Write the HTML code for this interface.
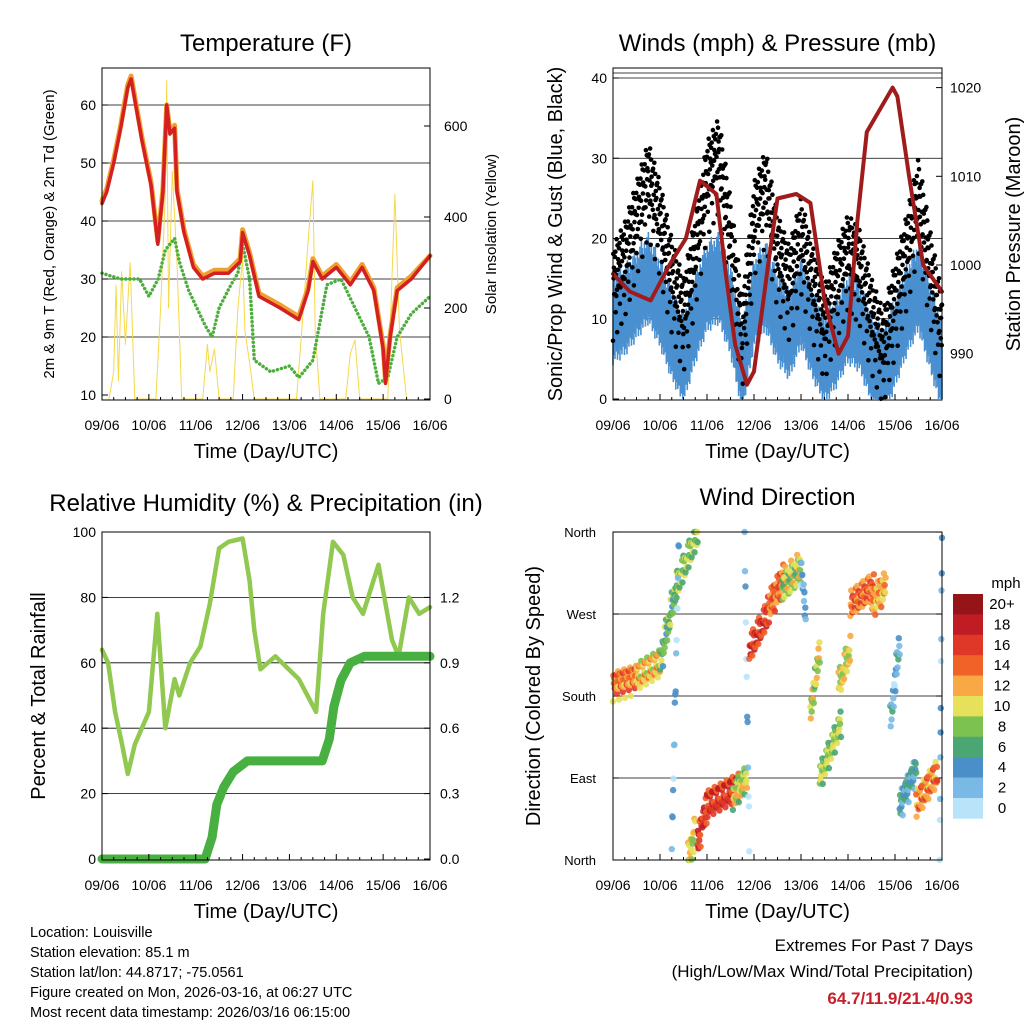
<!DOCTYPE html>
<html><head><meta charset="utf-8">
<style>
html,body{margin:0;padding:0;background:#fff;}
svg{display:block;font-family:"Liberation Sans",sans-serif;}
</style></head>
<body>
<svg id="c" width="1024" height="1024" viewBox="0 0 1024 1024" xmlns="http://www.w3.org/2000/svg"></svg>
<script>
// ---------- DATA ----------
const dayLabels = ["09/06","10/06","11/06","12/06","13/06","14/06","15/06","16/06"];
const tempTimes = [0,0.1,0.25,0.4,0.55,0.62,0.72,0.85,0.95,1.05,1.19,1.3,1.38,1.45,1.55,1.6,1.75,1.95,2.15,2.4,2.7,2.95,3.0,3.15,3.35,3.8,4.2,4.4,4.5,4.7,5.0,5.3,5.55,5.8,6.0,6.05,6.15,6.3,6.6,7.0];
const temp2m = [43,45,50,56,63,64.5,60,54,50,46,36,45,60,55,56,45,38,32,30,31,31,33,38,34,27,25,23,28,33,30,32,29,32,28,18,12,20,28,30,34];
const temp9m = [43.5,45.5,50.5,56.5,63.5,65,60.5,54.5,50.5,46.5,36.5,45.5,60,55.5,56.5,45.5,38.5,32.5,30.5,31.5,31.5,33.5,38.5,34.5,27.5,25.5,23.5,28.5,33.5,30.5,32.5,29.5,32.5,28.5,18.5,12.5,20.5,28.5,30.5,34];
const dewTimes = [0,0.4,0.8,1.0,1.2,1.35,1.55,1.65,1.85,2.2,2.35,2.5,2.75,2.9,3.0,3.15,3.25,3.6,4.0,4.2,4.5,4.8,5.1,5.4,5.7,5.9,6.1,6.3,6.6,7.0];
const dewpoint = [31,30,30,27,30,35,37,33,28,22,20,25,29,31,36,30,16,14,15,13,16,29,30,25,20,12,13,20,24,27];
const solarTimes = [0.15,0.25,0.3,0.35,0.42,0.5,0.6,0.7,1.15,1.25,1.35,1.38,1.42,1.5,1.6,1.7,2.15,2.25,2.3,2.4,2.5,2.8,2.9,3.0,3.05,3.15,3.25,4.15,4.3,4.4,4.5,4.55,4.65,5.2,5.3,5.4,5.5,6.1,6.2,6.25,6.35,6.5];
const solarVals = [0,60,250,40,280,120,300,0,0,200,450,700,200,500,300,0,0,120,60,110,0,0,200,310,150,80,0,0,200,350,480,150,0,0,100,130,0,0,300,450,150,0];
const windTimes = [0,0.25,0.5,0.75,1,1.25,1.5,1.75,2,2.25,2.5,2.75,3,3.25,3.5,3.75,4,4.25,4.5,4.75,5,5.25,5.5,5.75,6,6.25,6.5,6.75,7];
const gustVals = [14,17,22,27,22,15,10,18,27,30,20,8,22,26,18,14,20,14,9,14,18,16,10,6,12,18,25,16,8];
const sonicVals = [10,11,13,15,12,8,5,10,14,15,11,4,12,14,10,8,12,8,5,7,10,9,5,3,7,11,14,9,4];
const presTimes = [0,0.36,0.8,1.2,1.55,1.85,2.2,2.4,2.6,2.85,3.0,3.3,3.5,3.9,4.2,4.5,4.8,5.0,5.2,5.4,5.95,6.05,6.3,6.6,7.0];
const pressure = [999,997,996,1000,1003,1009.5,1008,999,991,986.5,988,1000,1007.5,1008,1007,996,990,992,1005,1015,1020,1019,1010,1000,997];
const dirSegments = [
 [0.0,0.5,192,200,14],[0.5,1.0,200,215,12],[1.0,1.1,215,235,8],[1.1,1.35,240,300,8],[1.35,1.8,300,358,9],
 [1.25,1.4,10,350,3],[1.6,1.75,0,30,11],[1.8,2.0,20,60,17],[2.0,2.7,60,80,17],[2.55,2.85,70,90,10],
 [2.8,2.9,355,10,2],[2.9,3.3,230,270,17],[3.3,3.65,275,310,15],[3.6,4.0,300,320,10],[4.0,4.1,320,270,3],
 [4.2,4.4,160,230,10],[4.4,4.85,90,150,9],[4.8,5.05,190,230,11],[5.05,5.55,280,300,15],[5.5,5.8,280,300,13],
 [5.9,6.1,150,240,4],[6.1,6.45,60,100,5],[6.45,6.9,60,95,14],[6.95,7.0,0,355,3]];
const speedColors = ["#b8e3f8","#7ab9e6","#4a8fc8","#4aa672","#7cc250","#e6e05a","#f8a844","#f06228","#e03828","#c01c24","#941418"];
const cbarLabels = ["20+","18","16","14","12","10","8","6","4","2","0"];
const rhTimes = [0,0.13,0.28,0.43,0.55,0.7,1.0,1.18,1.35,1.55,1.65,1.88,2.1,2.3,2.5,2.7,3.0,3.15,3.25,3.38,3.7,4.2,4.57,4.72,4.93,5.15,5.35,5.57,5.9,6.19,6.33,6.55,6.77,7.0];
const rhVals = [64,60,45,35,26,35,45,75,40,55,50,60,65,78,95,97,98,85,70,58,62,55,45,75,97,93,80,75,90,67,62,80,75,77];
const precTimes = [0,2.2,2.35,2.45,2.6,2.8,3.1,4.7,4.85,4.95,5.1,5.3,5.6,7.0];
const precipVals = [0,0,0.1,0.25,0.33,0.4,0.45,0.45,0.55,0.7,0.82,0.9,0.93,0.93];

// ---------- HELPERS ----------
const svg = document.getElementById('c');
const NS = 'http://www.w3.org/2000/svg';
function mk(tag, attrs, parent){const e=document.createElementNS(NS,tag);for(const k in attrs)e.setAttribute(k,attrs[k]);(parent||svg).appendChild(e);return e;}
function txt(x,y,s,size,anchor,name,extra){const t=mk('text',Object.assign({x:x,y:y,'font-size':size,'text-anchor':anchor||'middle',fill:'#000'},extra||{}));t.textContent=s;


return t;}
const jit = [-0.9,0.4,-0.3,0.8,-0.6,0.1,0.95,-0.2,0.6,-0.75,0.3,-0.45,0.7,-0.05];

function panel(name){
  const g=mk('g',{});
  
  
  return g;
}
function frame(g,x0,y0,x1,y1){const r=mk('rect',{x:x0,y:y0,width:x1-x0,height:y1-y0,fill:'none',stroke:'#000','stroke-width':1},g);

}
function xAxis(g,x0,x1,y1){
  const sx=d=>x0+d*(x1-x0)/7;
  dayLabels.forEach((l,i)=>{
    mk('line',{x1:sx(i),x2:sx(i),y1:y1,y2:y1-6,stroke:'#000'},g);
    txt(sx(i),y1+30,l,14,'middle','x-tick-label');
  });
  for(let i=0;i<7;i++)for(let k=1;k<4;k++){const xx=sx(i+k/4);mk('line',{x1:xx,x2:xx,y1:y1,y2:y1-3,stroke:'#000'},g);}
  txt((x0+x1)/2,y1+58,'Time (Day/UTC)',20,'middle','x-axis-title');
}
function path(g,xs,ys,sx,sy,attrs,name){let d='';xs.forEach((t,i)=>{d+=(i?'L':'M')+sx(t).toFixed(1)+' '+sy(ys[i]).toFixed(1);});
const p=mk('path',Object.assign({d:d,fill:'none','stroke-linejoin':'round','stroke-linecap':'round'},attrs),g);


return p;}
function interp(ts,vs,t){for(let i=1;i<ts.length;i++){if(t<=ts[i]){const f=(t-ts[i-1])/(ts[i]-ts[i-1]);return vs[i-1]+f*(vs[i]-vs[i-1]);}}return vs[vs.length-1];}

// ---------- PANEL 1 ----------
(function(){
  const x0=102,x1=430,y0=68,y1=400;
  const g=panel('temperature-panel');
  const sx=d=>x0+d*(x1-x0)/7, sy=v=>395-(v-10)*5.8, sr=v=>399-v*0.455;
  [20,30,40,50,60].forEach(v=>mk('line',{x1:x0,x2:x1,y1:sy(v),y2:sy(v),stroke:'#000','stroke-width':0.8},g));
  [10,20,30,40,50,60].forEach(v=>{mk('line',{x1:x0,x2:x0+6,y1:sy(v),y2:sy(v),stroke:'#000'},g);txt(x0-6,sy(v)+5,String(v),14,'end','y-tick-label');});
  [0,200,400,600].forEach(v=>{mk('line',{x1:x1,x2:x1-6,y1:sr(v),y2:sr(v),stroke:'#000'},g);txt(x1+14,sr(v)+5,String(v),14,'start','y2-tick-label');});
  path(g,solarTimes,solarVals,sx,sr,{stroke:'#f5d94a','stroke-width':1},'solar-insolation-line');
  path(g,dewTimes,dewpoint,sx,sy,{stroke:'#4caf3c','stroke-width':3.5,'stroke-dasharray':'0.1 4'},'dewpoint-line');
  path(g,tempTimes,temp9m,sx,sy,{stroke:'#f0a030','stroke-width':5},'temp-9m-line');
  path(g,tempTimes,temp2m,sx,sy,{stroke:'#d42020','stroke-width':3.5},'temp-2m-line');
  frame(g,x0,y0,x1,y1);
  xAxis(g,x0,x1,y1);
  txt((x0+x1)/2,51,'Temperature (F)',24,'middle','chart-title');
  txt(54,234,'2m & 9m T (Red, Orange) & 2m Td (Green)',15,'middle','y-axis-title',{transform:'rotate(-90 54 234)'});
  txt(496,234,'Solar Insolation (Yellow)',15,'middle','y2-axis-title',{transform:'rotate(-90 496 234)'});
})();

// ---------- PANEL 2 ----------
(function(){
  const x0=613,x1=942,y0=68,y1=400;
  const g=panel('winds-panel');
  const sx=d=>x0+d*(x1-x0)/7, sy=v=>399-v*8.025, sp=v=>265-(v-1000)*8.87;
  [10,20,30,40].forEach(v=>mk('line',{x1:x0,x2:x1,y1:sy(v),y2:sy(v),stroke:'#000','stroke-width':0.8},g));
  mk('line',{x1:x0,x2:x1,y1:73,y2:73,stroke:'#000','stroke-width':0.8},g);
  [0,10,20,30,40].forEach(v=>{mk('line',{x1:x0,x2:x0+6,y1:sy(v),y2:sy(v),stroke:'#000'},g);txt(x0-6,sy(v)+5,String(v),14,'end','y-tick-label');});
  [990,1000,1010,1020].forEach(v=>{mk('line',{x1:x1,x2:x1-6,y1:sp(v),y2:sp(v),stroke:'#000'},g);txt(x1+8,sp(v)+5,String(v),14,'start','y2-tick-label');});
  const sg=mk('g',{},g);
  
  
  for(let k=0;k<=660;k++){const t=7*k/660;const m=interp(windTimes,sonicVals,t);const a=jit[k%14],b=jit[(k+5)%14];
    mk('line',{x1:sx(t),x2:sx(t),y1:sy(Math.max(0,m-4+a*2)),y2:sy(m+3+b*3),stroke:'#4a90d0','stroke-width':1.6},sg);}
  const gg=mk('g',{},g);
  
  
  for(let k=0;k<=1100;k++){const t=7*k/1100;const m=interp(windTimes,gustVals,t);const v=Math.max(0,m+jit[k%14]*5+jit[(k*3)%14]*2.5);
    mk('circle',{cx:sx(t).toFixed(1),cy:sy(v).toFixed(1),r:2.3,fill:'#000'},gg);}
  path(g,presTimes,pressure,sx,sp,{stroke:'#a01c1c','stroke-width':4},'pressure-line');
  frame(g,x0,y0,x1,y1);
  xAxis(g,x0,x1,y1);
  txt((x0+x1)/2,51,'Winds (mph) & Pressure (mb)',24,'middle','chart-title');
  txt(562,234,'Sonic/Prop Wind & Gust (Blue, Black)',20,'middle','y-axis-title',{transform:'rotate(-90 562 234)'});
  txt(1020,234,'Station Pressure (Maroon)',20,'middle','y2-axis-title',{transform:'rotate(-90 1020 234)'});
})();

// ---------- PANEL 3 ----------
(function(){
  const x0=102,x1=430,y0=532,y1=860;
  const g=panel('humidity-precip-panel');
  const sx=d=>x0+d*(x1-x0)/7, sy=v=>859-v*3.27, spr=v=>sy(v/1.5*100);
  [20,40,60,80].forEach(v=>mk('line',{x1:x0,x2:x1,y1:sy(v),y2:sy(v),stroke:'#000','stroke-width':0.8},g));
  [0,20,40,60,80,100].forEach(v=>{mk('line',{x1:x0,x2:x0+6,y1:sy(v),y2:sy(v),stroke:'#000'},g);txt(x0-6,sy(v)+5,String(v),14,'end','y-tick-label');});
  [0,0.3,0.6,0.9,1.2].forEach(v=>{mk('line',{x1:x1,x2:x1-6,y1:spr(v),y2:spr(v),stroke:'#000'},g);txt(x1+10,spr(v)+5,v.toFixed(1),14,'start','y2-tick-label');});
  path(g,rhTimes,rhVals,sx,sy,{stroke:'#90c850','stroke-width':4.5},'humidity-line');
  path(g,precTimes,precipVals,sx,spr,{stroke:'#48b040','stroke-width':9},'precip-line');
  frame(g,x0,y0,x1,y1);
  xAxis(g,x0,x1,y1);
  txt((x0+x1)/2,511,'Relative Humidity (%) & Precipitation (in)',24,'middle','chart-title');
  txt(45,696,'Percent & Total Rainfall',20,'middle','y-axis-title',{transform:'rotate(-90 45 696)'});
})();

// ---------- PANEL 4 ----------
(function(){
  const x0=613,x1=942,y0=532,y1=860;
  const g=panel('wind-direction-panel');
  const sx=d=>x0+d*(x1-x0)/7, sy=v=>860-v*0.911;
  const dl=['North','East','South','West','North'];
  [90,180,270].forEach(v=>mk('line',{x1:x0,x2:x1,y1:sy(v),y2:sy(v),stroke:'#000','stroke-width':0.8},g));
  [0,90,180,270,360].forEach((v,i)=>{mk('line',{x1:x0,x2:x0+6,y1:sy(v),y2:sy(v),stroke:'#000'},g);mk('line',{x1:x1,x2:x1-6,y1:sy(v),y2:sy(v),stroke:'#000'},g);txt(x0-17,sy(v)+5,dl[i],13,'end','y-tick-label');});
  const dg=mk('g',{},g);
  
  
  dirSegments.forEach((s,si)=>{const n=Math.max(10,Math.round((s[1]-s[0])*110));
    for(let k=0;k<=n;k++){const f=k/n;const t=s[0]+f*(s[1]-s[0]);let d=s[2]+f*(s[3]-s[2])+jit[(k+si)%14]*14+jit[(k*3+si)%14]*6;d=Math.max(0,Math.min(360,d));
      const sp=Math.max(0,s[4]+jit[(k*5+si)%14]*3);const ci=Math.min(10,Math.floor(sp/2));
      mk('circle',{cx:sx(t).toFixed(1),cy:sy(d).toFixed(1),r:3.2,fill:speedColors[ci],'fill-opacity':0.9},dg);}});
  frame(g,x0,y0,x1,y1);
  xAxis(g,x0,x1,y1);
  txt((x0+x1)/2,505,'Wind Direction',24,'middle','chart-title');
  txt(540,696,'Direction (Colored By Speed)',20,'middle','y-axis-title',{transform:'rotate(-90 540 696)'});
  const cb=mk('g',{},svg);
  
  
  const h=20.4;
  cbarLabels.forEach((l,i)=>{const y=594+i*h;mk('rect',{x:953,y:y,width:30,height:h+0.3,fill:speedColors[10-i]},cb);txt(1002,y+15,l,15,'middle','colorbar-label');});
  txt(1006,588,'mph',15,'middle','colorbar-title');
})();

// ---------- FOOTER ----------
const info=['Location: Louisville','Station elevation: 85.1 m','Station lat/lon: 44.8717; -75.0561','Figure created on Mon, 2026-03-16, at 06:27 UTC','Most recent data timestamp: 2026/03/16 06:15:00'];
info.forEach((s,i)=>txt(30,937+i*20,s,14.5,'start','station-info-line'));
txt(973,951,'Extremes For Past 7 Days',17,'end','extremes-title');
txt(973,977,'(High/Low/Max Wind/Total Precipitation)',17,'end','extremes-subtitle');
txt(973,1004,'64.7/11.9/21.4/0.93',17,'end','extremes-values',{fill:'#c8202a','font-weight':'bold'});
</script>
</body></html>
